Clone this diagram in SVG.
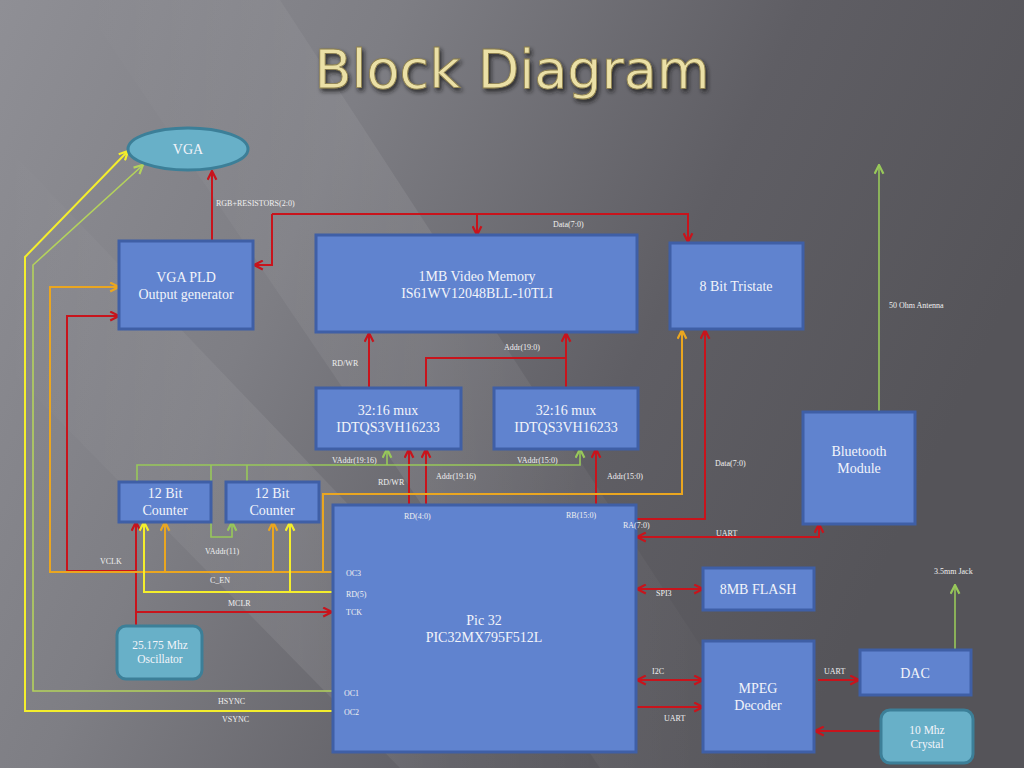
<svg xmlns="http://www.w3.org/2000/svg" width="1024" height="768" viewBox="0 0 1024 768">
<defs>
<linearGradient id="bg" x1="0" y1="0" x2="1" y2="0.35">
<stop offset="0" stop-color="#8f8f95"/>
<stop offset="0.35" stop-color="#7e7e84"/>
<stop offset="0.7" stop-color="#5f5e64"/>
<stop offset="1" stop-color="#555459"/>
</linearGradient>
<linearGradient id="streak" x1="0" y1="0" x2="1" y2="0">
<stop offset="0" stop-color="#ffffff" stop-opacity="0"/>
<stop offset="0.5" stop-color="#ffffff" stop-opacity="0.08"/>
<stop offset="1" stop-color="#ffffff" stop-opacity="0"/>
</linearGradient>
<marker id="aR" viewBox="0 0 10 10" refX="9" refY="5" markerWidth="11" markerHeight="11" markerUnits="userSpaceOnUse" orient="auto-start-reverse"><path d="M1,1 L9,5 L1,9" fill="none" stroke="#c8141c" stroke-width="2"/></marker>
<marker id="aO" viewBox="0 0 10 10" refX="9" refY="5" markerWidth="11" markerHeight="11" markerUnits="userSpaceOnUse" orient="auto-start-reverse"><path d="M1,1 L9,5 L1,9" fill="none" stroke="#eaa620" stroke-width="2"/></marker>
<marker id="aY" viewBox="0 0 10 10" refX="9" refY="5" markerWidth="11" markerHeight="11" markerUnits="userSpaceOnUse" orient="auto-start-reverse"><path d="M1,1 L9,5 L1,9" fill="none" stroke="#f4ee2c" stroke-width="2"/></marker>
<marker id="aG" viewBox="0 0 10 10" refX="9" refY="5" markerWidth="11" markerHeight="11" markerUnits="userSpaceOnUse" orient="auto-start-reverse"><path d="M1,1 L9,5 L1,9" fill="none" stroke="#98c85a" stroke-width="2"/></marker>
<marker id="aH" viewBox="0 0 10 10" refX="9" refY="5" markerWidth="11" markerHeight="11" markerUnits="userSpaceOnUse" orient="auto-start-reverse"><path d="M1,1 L9,5 L1,9" fill="none" stroke="#b4d25c" stroke-width="2"/></marker>
<filter id="sh" x="-10%" y="-10%" width="120%" height="130%"><feDropShadow dx="2" dy="3" stdDeviation="2" flood-color="#1a1a1a" flood-opacity="0.8"/></filter>
</defs>
<style>
.box{fill:#6083cf;stroke:#3f5fa6;stroke-width:3}
.oval{fill:#68b0c8;stroke:#3c7f98;stroke-width:3}
.t{font-family:"Liberation Serif","DejaVu Serif",serif;font-size:14px;fill:#f2f4fa;text-anchor:middle}
.tm{font-family:"Liberation Serif","DejaVu Serif",serif;font-size:11.5px;fill:#f2f4fa;text-anchor:middle}
.s{font-family:"Liberation Serif","DejaVu Serif",serif;font-size:8px;fill:#f0f0f0}
.r{fill:none;stroke:#c8141c;stroke-width:2}
.o{fill:none;stroke:#eaa620;stroke-width:2}
.y{fill:none;stroke:#f4ee2c;stroke-width:2}
.g{fill:none;stroke:#98c85a;stroke-width:1.6}
.h{fill:none;stroke:#b4d25c;stroke-width:1.6}
</style>
<rect width="1024" height="768" fill="url(#bg)"/>
<polygon points="0,140 0,360 400,768 600,768" fill="url(#streak)"/>
<polygon points="80,0 280,0 780,768 600,768" fill="url(#streak)"/>
<text x="512" y="88" font-family="DejaVu Sans, sans-serif" font-size="54" fill="#ebe0a6" stroke="#8d7f4c" stroke-width="0.8" text-anchor="middle" filter="url(#sh)">Block Diagram</text>

<g id="connectors">
<path class="r" d="M212,241 V171" marker-end="url(#aR)"/>
<path class="r" d="M272,214 V265 H254" marker-end="url(#aR)"/>
<path class="r" d="M272,214 H688 V242" marker-end="url(#aR)"/>
<path class="r" d="M477,214 V235" marker-end="url(#aR)"/>
<path class="r" d="M369,388 V333" marker-end="url(#aR)"/>
<path class="r" d="M426,388 V358 H566"/>
<path class="r" d="M566,388 V333" marker-end="url(#aR)"/>
<path class="r" d="M409,505 V449" marker-end="url(#aR)"/>
<path class="r" d="M426,505 V449" marker-end="url(#aR)"/>
<path class="r" d="M596,505 V449" marker-end="url(#aR)"/>
<path class="r" d="M636,519 H705 V330" marker-end="url(#aR)"/>
<path class="r" d="M637,537 H819 V524" marker-start="url(#aR)" marker-end="url(#aR)"/>
<path class="r" d="M637,589 H703" marker-start="url(#aR)" marker-end="url(#aR)"/>
<path class="r" d="M637,680 H703" stroke-width="3" marker-start="url(#aR)" marker-end="url(#aR)"/>
<path class="r" d="M636,707 H703" marker-end="url(#aR)"/>
<path class="r" d="M818,680 H859" marker-end="url(#aR)"/>
<path class="r" d="M881,731 H815" marker-end="url(#aR)"/>
<path class="r" d="M136,626 V522" marker-end="url(#aR)"/>
<path class="r" d="M136,571 H67 V316 H119" marker-end="url(#aR)"/>
<path class="r" d="M136,612 H332" marker-end="url(#aR)"/>
<path class="o" d="M332,572 H50 V287 H119" marker-end="url(#aO)"/>
<path class="o" d="M165,572 V522" marker-end="url(#aO)"/>
<path class="o" d="M273,572 V522" marker-end="url(#aO)"/>
<path class="o" d="M323,572 V494 H682 V330" marker-end="url(#aO)"/>
<path class="y" d="M332,592 H144 V522" marker-end="url(#aY)"/>
<path class="y" d="M290,592 V522" marker-end="url(#aY)"/>
<path class="y" d="M332,711 H25 V257 L128,151" marker-end="url(#aY)"/>
<path class="h" d="M332,691 H33 V265 L143,165" marker-end="url(#aH)"/>
<path class="g" d="M137,482 V465 H580 V449" marker-end="url(#aG)"/>
<path class="g" d="M247,482 V465"/>
<path class="g" d="M387,465 V449" marker-end="url(#aG)"/>
<path class="g" d="M211,465 V537 H232 V522" marker-end="url(#aG)"/>
<path class="g" d="M879,412 V165" marker-end="url(#aG)"/>
<path class="g" d="M955,650 V585" marker-end="url(#aG)"/>
</g>

<g id="labels">
<text class="s" x="216" y="206">RGB+RESISTORS(2:0)</text>
<text class="s" x="553" y="227">Data(7:0)</text>
<text class="s" x="332" y="366">RD/WR</text>
<text class="s" x="504" y="350">Addr(19:0)</text>
<text class="s" x="332" y="463">VAddr(19:16)</text>
<text class="s" x="517" y="463">VAddr(15:0)</text>
<text class="s" x="378" y="485">RD/WR</text>
<text class="s" x="436" y="479">Addr(19:16)</text>
<text class="s" x="607" y="479">Addr(15:0)</text>
<text class="s" x="715" y="466">Data(7:0)</text>
<text class="s" x="716" y="536">UART</text>
<text class="s" x="889" y="308">50 Ohm Antenna</text>
<text class="s" x="205" y="554">VAddr(11)</text>
<text class="s" x="100" y="564">VCLK</text>
<text class="s" x="210" y="583">C_EN</text>
<text class="s" x="228" y="606">MCLR</text>
<text class="s" x="218" y="704">HSYNC</text>
<text class="s" x="222" y="722">VSYNC</text>
<text class="s" x="656" y="596">SPI3</text>
<text class="s" x="652" y="674">I2C</text>
<text class="s" x="664" y="721">UART</text>
<text class="s" x="824" y="674">UART</text>
<text class="s" x="934" y="574">3.5mm Jack</text>
</g>

<g id="vga"><ellipse class="oval" cx="188" cy="149" rx="60" ry="21"/><text class="t" x="188" y="154">VGA</text></g>
<g id="vgapld"><rect class="box" x="119" y="241" width="134" height="88"/><text class="t" x="186" y="282">VGA PLD</text><text class="t" x="186" y="299">Output generator</text></g>
<g id="memory"><rect class="box" x="316" y="235" width="321" height="97"/><text class="t" x="477" y="281">1MB Video Memory</text><text class="t" x="477" y="298">IS61WV12048BLL-10TLI</text></g>
<g id="tristate"><rect class="box" x="670" y="243" width="133" height="86"/><text class="t" x="736" y="291">8 Bit Tristate</text></g>
<g id="mux1"><rect class="box" x="316" y="388" width="145" height="61"/><text class="t" x="388" y="415">32:16 mux</text><text class="t" x="388" y="432">IDTQS3VH16233</text></g>
<g id="mux2"><rect class="box" x="494" y="388" width="144" height="61"/><text class="t" x="566" y="415">32:16 mux</text><text class="t" x="566" y="432">IDTQS3VH16233</text></g>
<g id="counter1"><rect class="box" x="119" y="482" width="92" height="40"/><text class="t" x="165" y="498">12 Bit</text><text class="t" x="165" y="515">Counter</text></g>
<g id="counter2"><rect class="box" x="226" y="482" width="93" height="40"/><text class="t" x="272" y="498">12 Bit</text><text class="t" x="272" y="515">Counter</text></g>
<g id="pic32"><rect class="box" x="333" y="505" width="303" height="247"/><text class="t" x="484" y="625">Pic 32</text><text class="t" x="484" y="642">PIC32MX795F512L</text>
<text class="s" x="346" y="576">OC3</text><text class="s" x="346" y="597">RD(5)</text><text class="s" x="346" y="615">TCK</text><text class="s" x="344" y="696">OC1</text><text class="s" x="344" y="715">OC2</text><text class="s" x="404" y="519">RD(4:0)</text><text class="s" x="566" y="518">RB(15:0)</text><text class="s" x="623" y="528">RA(7:0)</text></g>
<g id="bluetooth"><rect class="box" x="803" y="412" width="112" height="112"/><text class="t" x="859" y="456">Bluetooth</text><text class="t" x="859" y="473">Module</text></g>
<g id="flash"><rect class="box" x="703" y="568" width="111" height="42"/><text class="t" x="758" y="594">8MB FLASH</text></g>
<g id="mpeg"><rect class="box" x="703" y="641" width="111" height="111"/><text class="t" x="758" y="693">MPEG</text><text class="t" x="758" y="710">Decoder</text></g>
<g id="dac"><rect class="box" x="860" y="650" width="111" height="45"/><text class="t" x="915" y="678">DAC</text></g>
<g id="crystal"><rect class="oval" x="881" y="710" width="92" height="53" rx="9"/><text class="tm" x="927" y="734">10 Mhz</text><text class="tm" x="927" y="748">Crystal</text></g>
<g id="oscillator"><rect class="oval" x="117" y="626" width="85" height="53" rx="9"/><text class="tm" x="160" y="649">25.175 Mhz</text><text class="tm" x="160" y="663">Oscillator</text></g>
</svg>
